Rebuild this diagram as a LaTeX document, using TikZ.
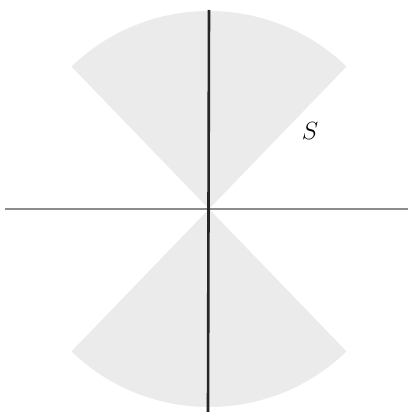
\documentclass[tikz,border=0pt]{standalone}
\begin{document}
\begin{tikzpicture}[x=1pt,y=-1pt,
  conefill/.style={fill=black!8,draw=none},
  vaxis/.style={line width=2.6pt,black!85},
  haxis/.style={line width=1.3pt,black!45},
  lbl/.style={font=\fontsize{23}{26}\selectfont\itshape}]
\useasboundingbox (0,0) rectangle (408,412);
\coordinate (O) at (209,209);
% upper cone
\fill[conefill] (O) -- ++(134:198) arc[start angle=134,end angle=46,radius=198] -- cycle;
% lower cone
\fill[conefill] (O) -- ++(-134:198) arc[start angle=-134,end angle=-46,radius=198] -- cycle;
\coordinate (L) at (5,209);
\coordinate (R) at (408,209);
\coordinate (T) at (209,10);
\coordinate (B) at (208,412);
\draw[haxis] (L) -- (R);
\draw[vaxis] (T) -- (B);
\node[lbl] (S) at (310,131) {$S$};
\end{tikzpicture}
\end{document}
